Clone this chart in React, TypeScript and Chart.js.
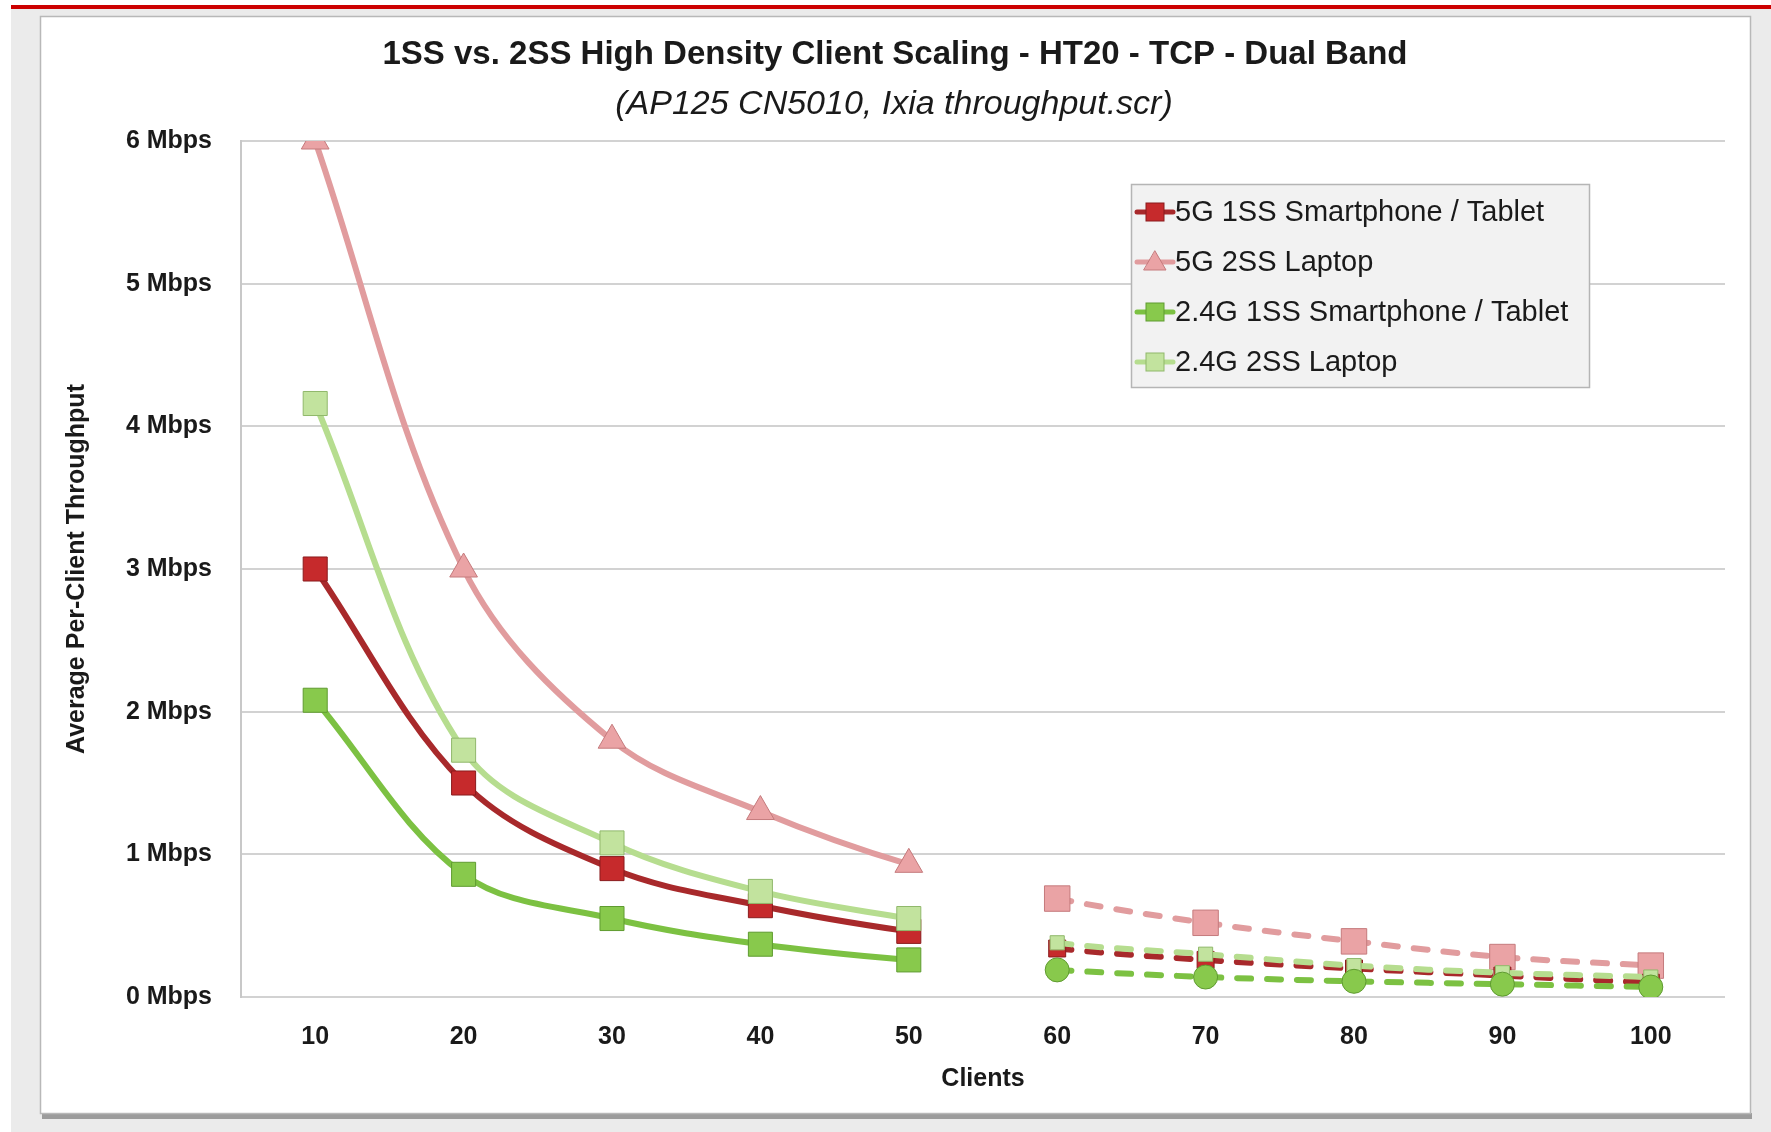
import React, { useEffect, useRef } from 'react';
import { Chart, registerables } from 'chart.js';

Chart.register(...registerables);

const W = 1771;
const H = 1132;

const TITLE = '1SS vs. 2SS High Density Client Scaling - HT20 - TCP - Dual Band';
const SUBTITLE = '(AP125 CN5010, Ixia throughput.scr)';
const X_TITLE = 'Clients';
const Y_TITLE = 'Average Per-Client Throughput';

const clients = ['10', '20', '30', '40', '50', '60', '70', '80', '90', '100'];

const seriesLabels = [
  '5G 1SS Smartphone / Tablet',
  '5G 2SS Laptop',
  '2.4G 1SS Smartphone / Tablet',
  '2.4G 2SS Laptop',
];

const fiveG1SS = [3.0, 1.5, 0.9, 0.64, 0.46, 0.34, 0.26, 0.2, 0.15, 0.1];
const fiveG2SS = [6.0, 3.0, 1.8, 1.3, 0.93, 0.69, 0.52, 0.39, 0.28, 0.22];
const g24_1SS = [2.08, 0.86, 0.55, 0.37, 0.26, 0.19, 0.14, 0.11, 0.09, 0.07];
const g24_2SS = [4.16, 1.73, 1.08, 0.74, 0.55, 0.38, 0.3, 0.22, 0.17, 0.14];

const yTickValues = [0, 1, 2, 3, 4, 5, 6];

const FONT = '"Liberation Sans", Arial, sans-serif';

// visual styles per series
const styles = [
  { line: '#a8292b', fill: '#c62a2c', border: '#8a1b1d', left: 'rect', right: 'rect', rL: 17, rR: 12, order: 2 },
  { line: '#e19c9e', fill: '#eaa3a5', border: '#c57a7c', left: 'triangle', right: 'rect', rL: 16, rR: 18, order: 3 },
  { line: '#7cc142', fill: '#88c94c', border: '#5f9b30', left: 'rect', right: 'circle', rL: 17, rR: 12, order: 0 },
  { line: '#b6dd8f', fill: '#c2e39e', border: '#90b86b', left: 'rect', right: 'rect', rL: 17, rR: 10, order: 1 },
];

const seriesData = [fiveG1SS, fiveG2SS, g24_1SS, g24_2SS];

const BREAK_INDEX = 4; // gap between 50 and 60

const backgroundPlugin = {
  id: 'bgPanel',
  beforeDraw(chart: any) {
    const ctx = chart.ctx;
    ctx.save();
    ctx.fillStyle = '#ffffff';
    ctx.fillRect(0, 0, W, H);
    ctx.fillStyle = '#ebebeb';
    ctx.fillRect(11, 9, W - 11, H - 9);
    ctx.fillStyle = '#cc0000';
    ctx.fillRect(11, 5, W - 11, 4);
    ctx.fillStyle = '#9c9c9c';
    ctx.fillRect(42, 1113, 1710, 6);
    ctx.fillStyle = '#ffffff';
    ctx.fillRect(40, 16, 1711, 1098);
    ctx.strokeStyle = '#b8b8b8';
    ctx.lineWidth = 1.5;
    ctx.strokeRect(40.5, 16.5, 1710, 1097);
    ctx.restore();
  },
};

const titlePlugin = {
  id: 'titles',
  afterDraw(chart: any) {
    const ctx = chart.ctx;
    ctx.save();
    ctx.fillStyle = '#1a1a1a';
    ctx.textAlign = 'center';
    ctx.textBaseline = 'middle';
    ctx.font = `bold 33px ${FONT}`;
    ctx.fillText(TITLE, 895, 55);
    ctx.font = `italic 34px ${FONT}`;
    ctx.fillText(SUBTITLE, 894, 105);
    ctx.restore();
  },
};

const legendPlugin = {
  id: 'boxLegend',
  afterDraw(chart: any) {
    const ctx = chart.ctx;
    const x0 = 1131, y0 = 184, w = 458, h = 203;
    ctx.save();
    ctx.fillStyle = '#f2f2f2';
    ctx.fillRect(x0, y0, w, h);
    ctx.strokeStyle = '#b5b5b5';
    ctx.lineWidth = 1.5;
    ctx.strokeRect(x0 + 0.5, y0 + 0.5, w, h);
    chart.data.datasets.forEach((ds: any, i: number) => {
      const st = styles[i];
      const cy = 212 + i * 50;
      ctx.strokeStyle = st.line;
      ctx.lineWidth = 5;
      ctx.lineCap = 'round';
      ctx.beginPath();
      ctx.moveTo(1137, cy);
      ctx.lineTo(1173, cy);
      ctx.stroke();
      ctx.fillStyle = st.fill;
      ctx.strokeStyle = st.border;
      ctx.lineWidth = 1;
      if (st.left === 'triangle') {
        ctx.beginPath();
        ctx.moveTo(1155, cy - 11);
        ctx.lineTo(1166, cy + 8);
        ctx.lineTo(1144, cy + 8);
        ctx.closePath();
        ctx.fill();
        ctx.stroke();
      } else {
        ctx.fillRect(1146, cy - 9, 18, 18);
        ctx.strokeRect(1146, cy - 9, 18, 18);
      }
      ctx.fillStyle = '#1a1a1a';
      ctx.font = `29px ${FONT}`;
      ctx.textAlign = 'left';
      ctx.textBaseline = 'middle';
      ctx.fillText(ds.label, 1175, cy + 1);
    });
    ctx.restore();
  },
};

export default function App() {
  const ref = useRef<HTMLCanvasElement | null>(null);

  useEffect(() => {
    if (!ref.current) return;
    const datasets = seriesData.map((data, i) => {
      const st = styles[i];
      return {
        label: seriesLabels[i],
        data,
        order: st.order,
        borderColor: st.line,
        borderWidth: 6,
        borderCapStyle: 'round',
        borderJoinStyle: 'round',
        tension: 0.35,
        fill: false,
        pointStyle: data.map((_, j) => (j <= BREAK_INDEX ? st.left : st.right)),
        pointRadius: data.map((_, j) => (j <= BREAK_INDEX ? st.rL : st.rR)),
        pointBackgroundColor: st.fill,
        pointBorderColor: st.border,
        pointBorderWidth: 1,
        segment: {
          borderColor: (c: any) => (c.p0DataIndex === BREAK_INDEX ? 'rgba(0,0,0,0)' : undefined),
          borderDash: (c: any) => (c.p0DataIndex > BREAK_INDEX ? [14, 16] : undefined),
        },
      };
    });

    const chart = new Chart(ref.current, {
      type: 'line',
      data: { labels: clients, datasets: datasets as any },
      options: {
        responsive: false,
        animation: false,
        devicePixelRatio: 1,
        layout: { padding: { top: 141, right: 46, left: 0, bottom: 0 }, autoPadding: false },
        plugins: {
          legend: { display: false },
          title: { display: false },
          tooltip: { enabled: false },
        },
        scales: {
          x: {
            type: 'category',
            offset: true,
            grid: { display: false, drawTicks: false },
            border: { display: false },
            ticks: {
              padding: 25,
              color: '#1a1a1a',
              font: { family: FONT, size: 25, weight: 'bold' },
            },
            title: {
              display: true,
              text: X_TITLE,
              color: '#1a1a1a',
              font: { family: FONT, size: 25, weight: 'bold' },
              padding: { top: 0, bottom: 38 },
            },
            afterFit(scale: any) {
              scale.height = H - 997;
            },
          },
          y: {
            min: 0,
            max: 6,
            afterBuildTicks(scale: any) {
              scale.ticks = yTickValues.map((v) => ({ value: v }));
            },
            grid: { color: '#d2d2d2', lineWidth: 2, drawTicks: false },
            border: { display: true, color: '#c8c8c8', width: 2 },
            ticks: {
              padding: 29,
              color: '#1a1a1a',
              font: { family: FONT, size: 25, weight: 'bold' },
              callback: (v: any) => `${v} Mbps`,
            },
            title: {
              display: true,
              text: Y_TITLE,
              color: '#1a1a1a',
              font: { family: FONT, size: 25, weight: 'bold' },
              padding: { top: 62, bottom: 0 },
            },
            afterFit(scale: any) {
              scale.width = 241;
            },
          },
        },
      },
      plugins: [backgroundPlugin, titlePlugin, legendPlugin],
    } as any);

    return () => chart.destroy();
  }, []);

  return (
    <div style={{ position: 'fixed', left: 0, top: 0, width: W, height: H }}>
      <canvas ref={ref} width={W} height={H} style={{ width: W, height: H, display: 'block' }} />
    </div>
  );
}
